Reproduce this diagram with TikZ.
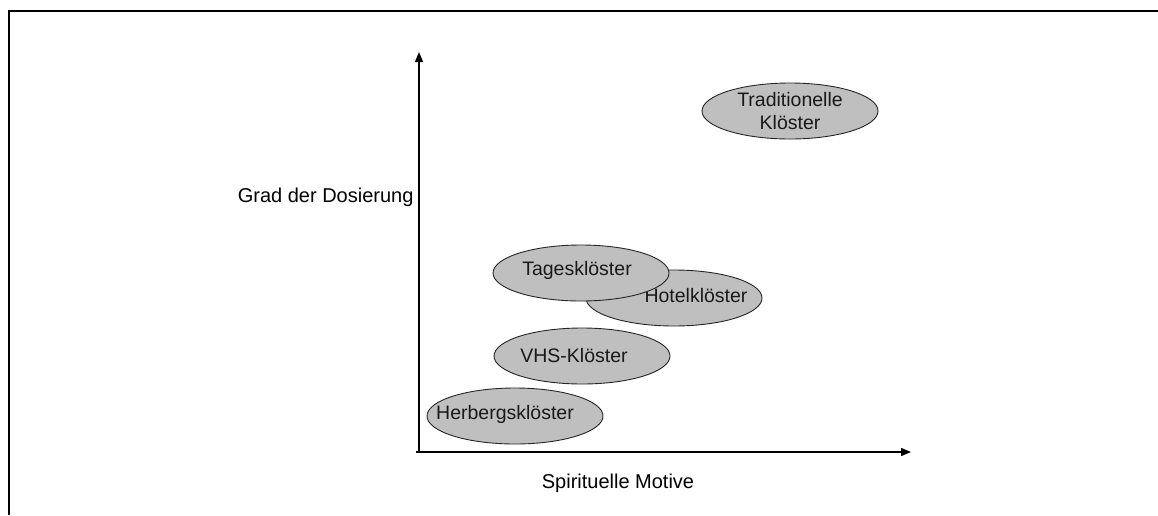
\documentclass[tikz,border=0pt]{standalone}
\usepackage{fontspec}
\setmainfont{Liberation Sans}
\usetikzlibrary{arrows.meta,shapes.geometric}
\tikzset{
	kloster/.style={ellipse,draw=black!85,line width=0.9pt,fill=white!75!black,minimum width=176pt,minimum height=56pt,inner sep=0pt},
	klabel/.style={font=\fontsize{19.5}{23}\selectfont,text=black!90,align=center},
	achse/.style={line width=1.3pt,-{Triangle[length=10pt,width=8pt]}}
}
\begin{document}
\begin{tikzpicture}[x=1pt,y=-1pt]
		\useasboundingbox (0,0) rectangle (1158,515);
		% Rahmen
		\draw[line width=2.2pt] (9,515) -- (9,11) -- (1158,11);
		% Achsen
		\coordinate (o) at (419,452);
		\coordinate (ytop) at (419,52);
		\coordinate (xend) at (911,452);
		\draw[achse] (o) -- (ytop);
		\draw[achse] ([xshift=-3pt]o) -- (xend);
		\node[anchor=east,font=\fontsize{20}{24}\selectfont] (ylab) at (417,197) {Grad der Dosierung};
		\node[font=\fontsize{20}{24}\selectfont] (xlab) at (618,483) {Spirituelle Motive};
		% Kloester
		\node[kloster] (trad) at (790,111) {};
		\node[klabel] (tradtxt) at (trad.center) {Traditionelle\\Klöster};
		\node[kloster] (hotel) at (674,298) {};
		\node[klabel] (hoteltxt) at ([xshift=22pt,yshift=2pt]hotel.center) {Hotelklöster};
		\node[kloster] (tages) at (581,273) {};
		\node[klabel] (tagestxt) at ([xshift=-4pt,yshift=3pt]tages.center) {Tagesklöster};
		\node[kloster] (vhs) at (582,356) {};
		\node[klabel] (vhstxt) at ([xshift=-8pt]vhs.center) {VHS-Klöster};
		\node[kloster] (herberg) at (515,416) {};
		\node[klabel] (herbergtxt) at ([xshift=-10pt,yshift=2pt]herberg.center) {Herbergsklöster};
	\end{tikzpicture}
\end{document}
